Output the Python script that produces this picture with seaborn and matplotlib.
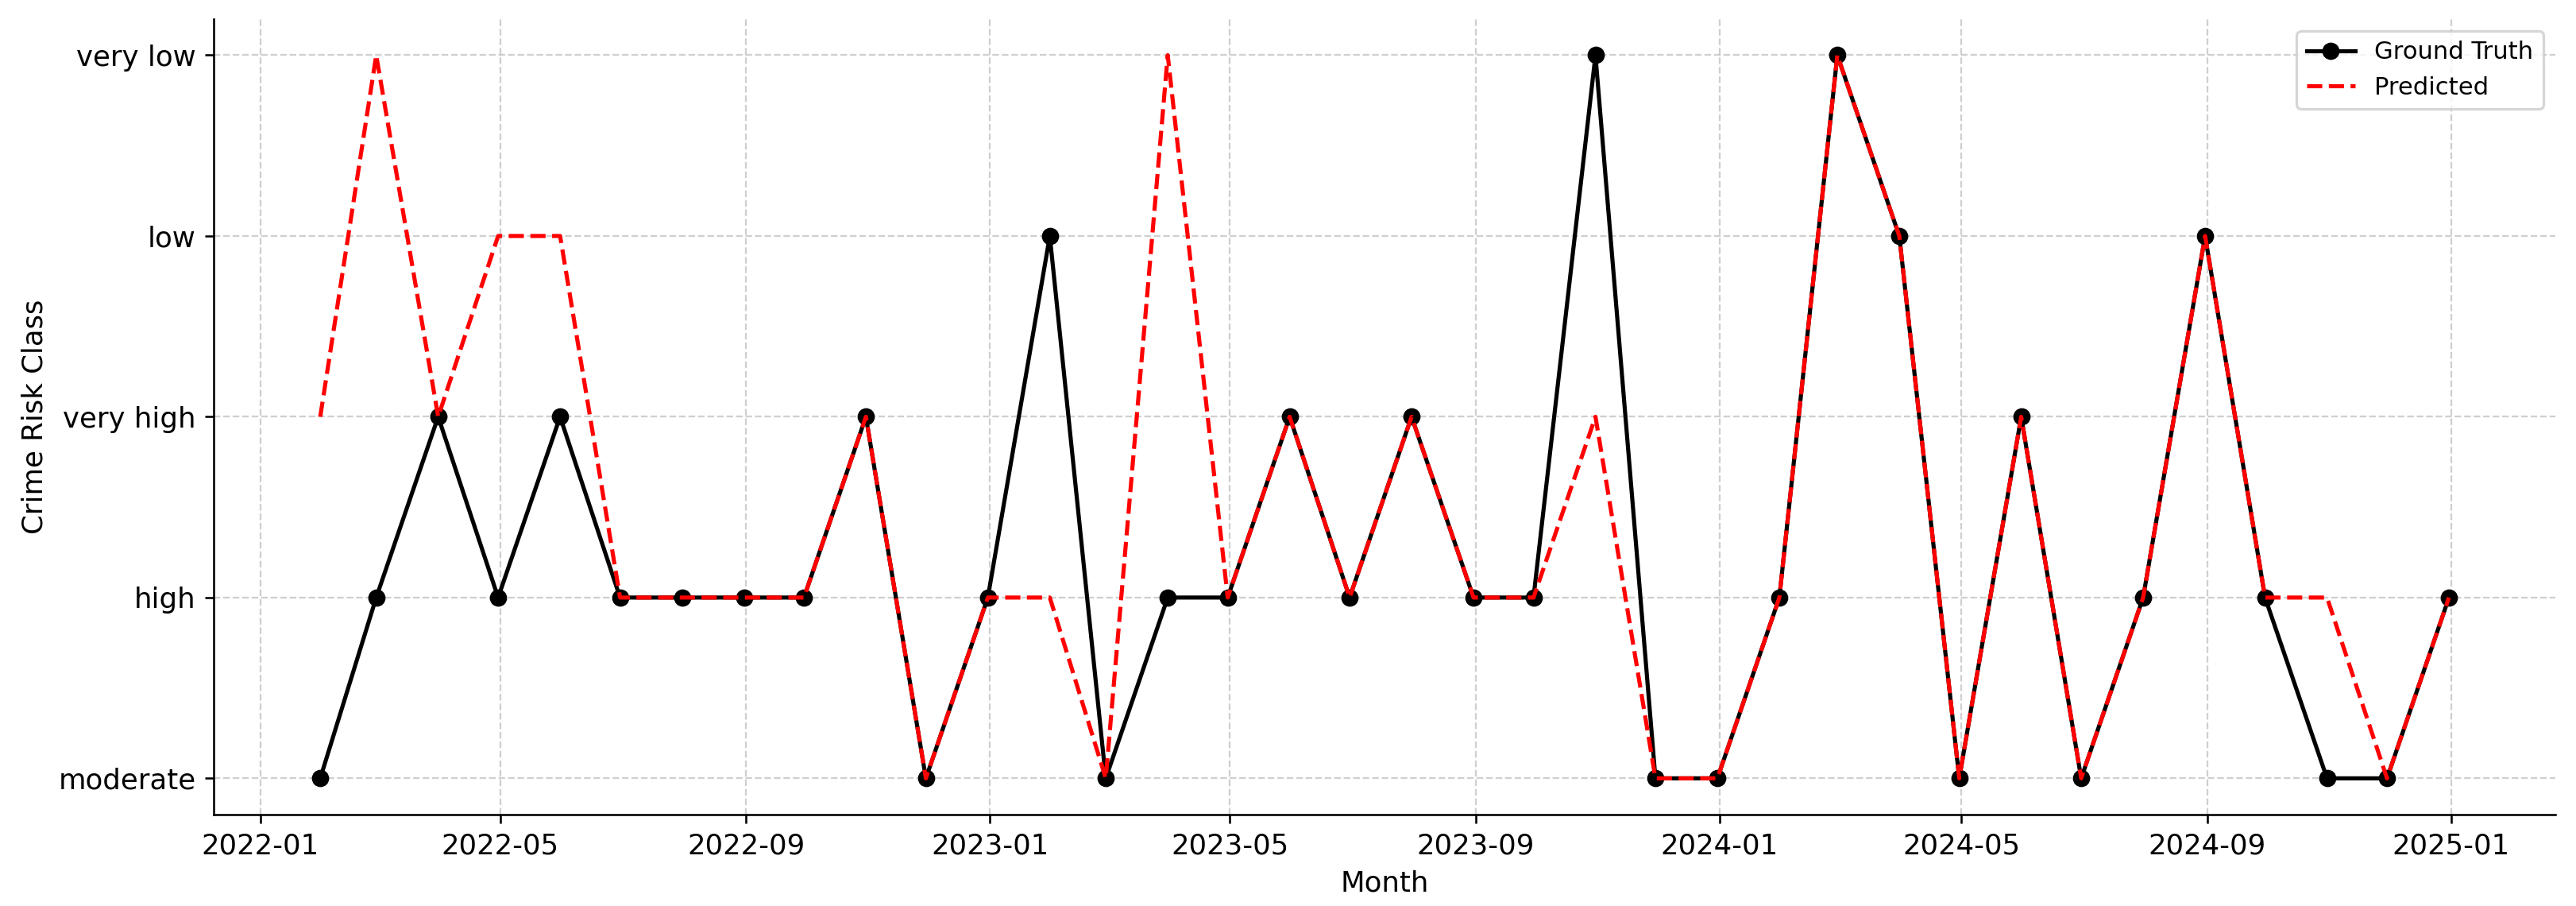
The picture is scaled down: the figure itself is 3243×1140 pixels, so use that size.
import pandas as pd
import numpy as np
import matplotlib
matplotlib.use("Agg")
import matplotlib.pyplot as plt
import matplotlib.dates as mdates
import seaborn as sns

# class order on the y axis, bottom to top
classes = ["moderate", "high", "very high", "low", "very low"]

# month-end dates, 2022-01 .. 2024-12
months = pd.date_range("2022-02-01", periods=36, freq="MS") - pd.Timedelta(days=1)

ground_truth = ["moderate", "high", "very high", "high", "very high", "high",
                "high", "high", "high", "very high", "moderate", "high",
                "low", "moderate", "high", "high", "very high", "high",
                "very high", "high", "high", "very low", "moderate", "moderate",
                "high", "very low", "low", "moderate", "very high", "moderate",
                "high", "low", "high", "moderate", "moderate", "high"]

predicted = ["very high", "very low", "very high", "low", "low", "high",
             "high", "high", "high", "very high", "moderate", "high",
             "high", "moderate", "very low", "high", "very high", "high",
             "very high", "high", "high", "very high", "moderate", "moderate",
             "high", "very low", "low", "moderate", "very high", "moderate",
             "high", "low", "high", "high", "moderate", "high"]

df = pd.DataFrame({"Month": months,
                   "gt": [classes.index(c) for c in ground_truth],
                   "pred": [classes.index(c) for c in predicted]})

DPI = 232
fig, ax = plt.subplots(figsize=(3243 / DPI, 1140 / DPI), dpi=DPI)

sns.lineplot(data=df, x="Month", y="gt", ax=ax, color="black", marker="o",
             markersize=6, markeredgecolor="black", linewidth=1.6,
             label="Ground Truth")
sns.lineplot(data=df, x="Month", y="pred", ax=ax, color="red",
             linestyle="--", linewidth=1.6, label="Predicted")

ax.set_yticks(range(len(classes)))
ax.set_yticklabels(classes)
ax.set_ylim(-0.2, 4.2)

ax.xaxis.set_major_locator(mdates.MonthLocator(bymonth=[1, 5, 9]))
ax.xaxis.set_major_formatter(mdates.DateFormatter("%Y-%m"))
ax.tick_params(labelsize=11)

ax.grid(True, linestyle="--", color="#b0b0b0", alpha=0.6, linewidth=0.7)
ax.set_axisbelow(True)
sns.despine(ax=ax)

ax.set_xlabel("Month", fontsize=11)
ax.set_ylabel("Crime Risk Class", fontsize=11)
ax.legend(loc="upper right", fontsize=9.5)

fig.subplots_adjust(left=0.083, right=0.992, top=0.979, bottom=0.101)
plt.savefig("out.png", dpi=DPI)
